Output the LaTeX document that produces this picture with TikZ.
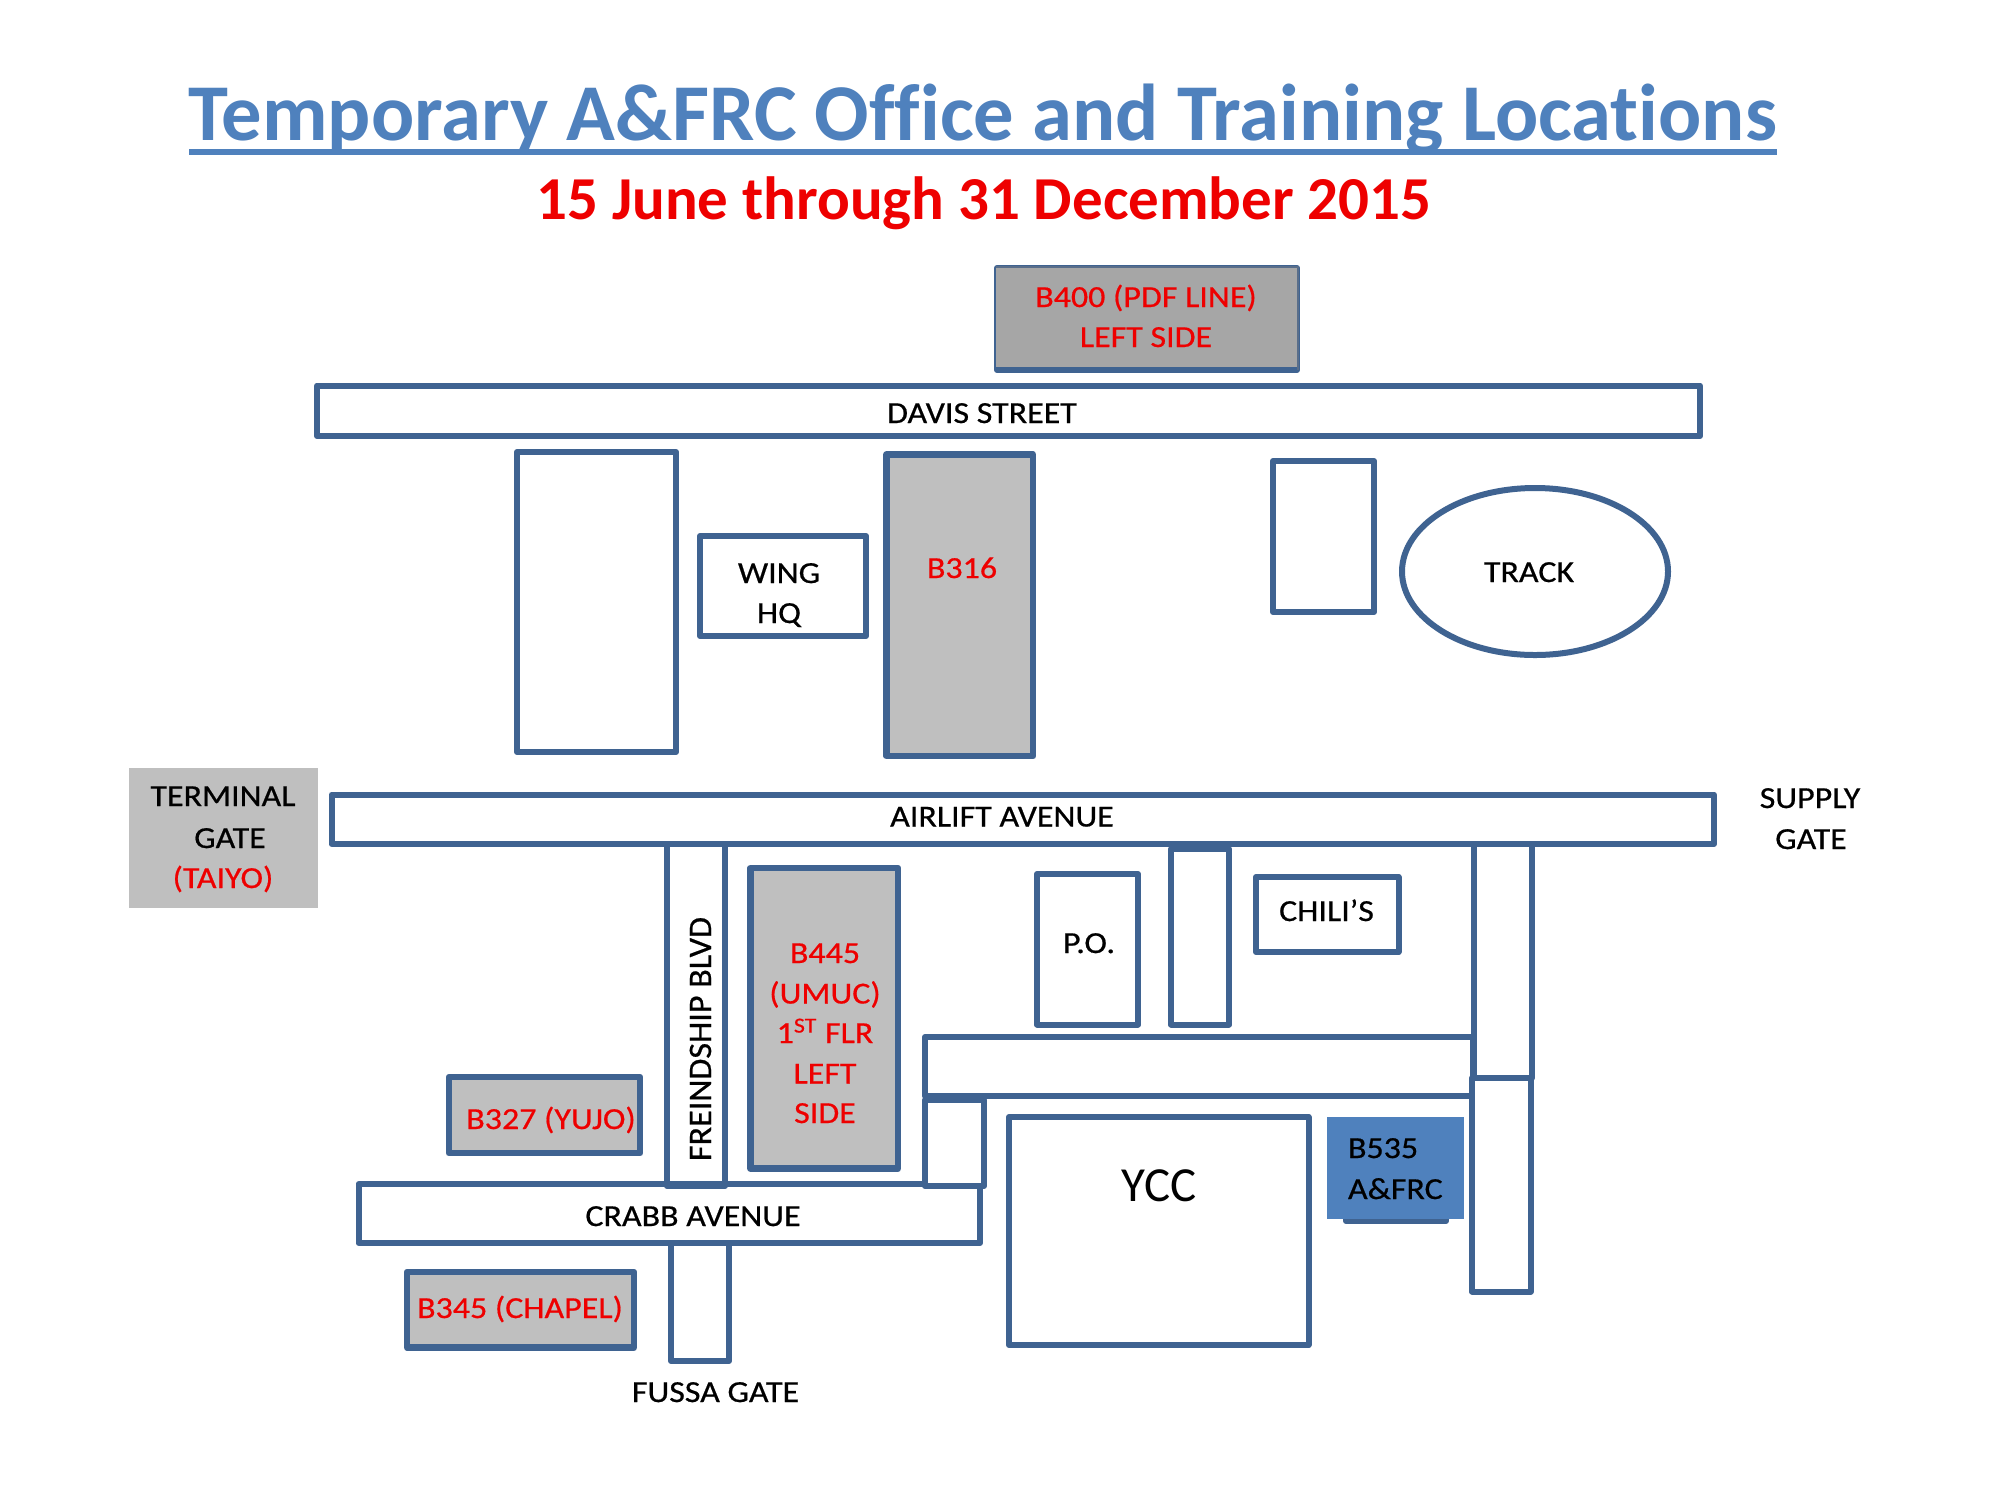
\documentclass[tikz,border=0pt]{standalone}
\usepackage{fontspec}
\setmainfont{Carlito}[Ligatures=NoCommon]
\newfontfamily\labfont{Carlito}[FakeStretch=1.11,FakeBold=0.6,Ligatures=NoCommon]
\newfontfamily\sidefont{Carlito}[FakeStretch=1.04,FakeBold=0.6,Ligatures=NoCommon]
\definecolor{edge}{HTML}{3F6391}
\definecolor{titleblue}{HTML}{4F81BD}
\definecolor{lightgrey}{HTML}{BFBFBF}
\definecolor{midgrey}{HTML}{A6A6A6}
\definecolor{redtext}{HTML}{EE0000}
\tikzset{
  plain/.style={draw=edge,line width=3pt,line join=round,fill=white},
  used/.style={draw=edge,line width=3.3pt,line join=round,fill=lightgrey},
  lab/.style={inner sep=0pt,outer sep=0pt,anchor=base,text=black,align=center,font=\labfont\fontsize{15.3pt}{20.2pt}\selectfont},
  redlab/.style={lab,text=redtext}
}
\begin{document}
\begin{tikzpicture}[x=0.5pt,y=-0.5pt]
\useasboundingbox (0,0) rectangle (2000,1500);
\fill[white] (0,0) rectangle (2000,1500);
% title
\node[lab,text=titleblue,font=\fontsize{40.3pt}{48pt}\bfseries\selectfont] (title) at (983,140) {Temporary A\&FRC Office and Training Locations};
\coordinate (ulL) at (189,152);
\coordinate (ulR) at (1777,152);
\draw[titleblue,line width=2.7pt] (ulL) -- (ulR);
\node[lab,text=redtext,font=\fontsize{30.5pt}{36pt}\bfseries\selectfont] (subtitle) at (984,219) {15 June through 31 December 2015};
% B400
\draw[plain] (997,268) rectangle (1297,370);
\fill[midgrey] (996,267) rectangle (1298,367);
\draw[edge!60!gray,line width=0.6pt] (996,267) -- (1298,267) -- (1298,370);
\node[redlab] (b400a) at (1146,307) {B400 (PDF LINE)};
\node[redlab] (b400b) at (1146,347) {LEFT SIDE};
% Davis
\draw[plain] (317,385.5) rectangle (1700,436);
\node[lab] (davis) at (982,423) {DAVIS STREET};
% north buildings
\draw[plain] (517,452) rectangle (676,752);
\draw[plain] (700,536) rectangle (866,636);
\node[lab] (wing) at (779,583) {WING};
\node[lab] (hq) at (779,623) {HQ};
\draw[used] (886.5,454.5) rectangle (1033,756);
\node[redlab] (b316) at (962,578) {B316};
\draw[plain] (1273,461) rectangle (1374,612);
\draw[plain] (1535,571.5) ellipse [x radius=133,y radius=83.5];
\node[lab] (track) at (1529,582) {TRACK};
% terminal gate
\fill[lightgrey] (129,768) rectangle (318,908);
\node[lab] (terminal) at (223,806) {TERMINAL};
\node[lab] (tgate) at (230,848) {GATE};
\node[redlab] (taiyo) at (223,888) {(TAIYO)};
% roads
\draw[plain] (667,830) rectangle (725,1186);
\draw[plain] (358.5,1184) rectangle (980,1243);
\draw[plain] (667,1184) -- (667,1186) -- (725,1186) -- (725,1184);
\draw[plain] (671,1243) rectangle (729,1361);
\draw[plain] (925,1100) rectangle (984,1186);
\draw[plain] (925,1037) rectangle (1473,1096);
\draw[plain] (1171,849) rectangle (1229,1024.5);
\draw[plain] (1474,830) rectangle (1532,1078);
\draw[plain] (1472,1078) rectangle (1530.5,1291.5);
\draw[plain] (331.5,794.5) rectangle (1714,844);
\node[lab] (airlift) at (1002,826.5) {AIRLIFT AVENUE};
\node[lab] (supply) at (1810,808) {SUPPLY};
\node[lab] (sgate) at (1811,849) {GATE};
\node[lab,rotate=90,anchor=base,font=\sidefont\fontsize{16.4pt}{20pt}\selectfont] (freind) at (711,1039) {FREINDSHIP BLVD};
\node[lab] (crabb) at (693,1226) {CRABB AVENUE};
\node[lab] (fussa) at (715.5,1402) {FUSSA GATE};
% south buildings
\draw[used] (750.5,868) rectangle (898,1168.5);
\node[redlab] (b445a) at (825,963) {B445};
\node[redlab] (b445b) at (825,1003.5) {(UMUC)};
\node[redlab] (b445c) at (825,1043) {1\textsuperscript{ST} FLR};
\node[redlab] (b445d) at (825,1083.5) {LEFT};
\node[redlab] (b445e) at (825,1123) {SIDE};
\draw[used] (449,1077) rectangle (640,1153);
\node[redlab] (b327) at (551,1129) {B327 (YUJO)};
\draw[used] (407,1272) rectangle (634,1347.5);
\node[redlab] (b345) at (520,1318) {B345 (CHAPEL)};
\draw[plain] (1037,874) rectangle (1138,1024.5);
\node[lab] (po) at (1089,953) {P.O.};
\draw[plain] (1256,877) rectangle (1398.5,952);
\node[lab] (chilis) at (1326.5,921) {CHILI’S};
\draw[plain] (1009,1117) rectangle (1308.5,1345);
\node[lab,font=\fontsize{24.5pt}{28pt}\selectfont] (ycc) at (1159,1201.5) {YCC};
% B535
\draw[plain] (1346,1150) rectangle (1446,1221);
\fill[titleblue] (1327,1117) rectangle (1464,1219);
\node[lab,anchor=base west] (b535a) at (1348,1158) {B535};
\node[lab,anchor=base west] (b535b) at (1348,1199) {A\&FRC};
\end{tikzpicture}
\end{document}
